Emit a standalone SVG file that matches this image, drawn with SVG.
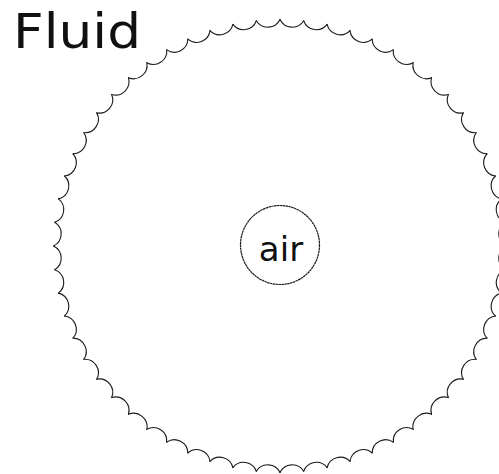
<svg xmlns="http://www.w3.org/2000/svg" xmlns:xlink="http://www.w3.org/1999/xlink" width="499" height="474" viewBox="0 0 499 474">
<style>
.bump{fill:none;stroke:#1a1a1a;stroke-width:1.1;stroke-linecap:round}
.lbl{font-family:"DejaVu Sans","Liberation Sans",sans-serif;fill:#111}
</style>
<defs>
<path id="arc" class="bump" d="M268.145 19.81 A13.5 13.5 0 0 0 291.855 19.81"/>
</defs>
<rect width="499" height="474" fill="#fff"/>
<g id="fluid">
<g id="fluid-border">
<use xlink:href="#arc" transform="rotate(3 280 246)"/><use xlink:href="#arc" transform="rotate(9 280 246)"/><use xlink:href="#arc" transform="rotate(15 280 246)"/><use xlink:href="#arc" transform="rotate(21 280 246)"/><use xlink:href="#arc" transform="rotate(27 280 246)"/><use xlink:href="#arc" transform="rotate(33 280 246)"/><use xlink:href="#arc" transform="rotate(39 280 246)"/><use xlink:href="#arc" transform="rotate(45 280 246)"/><use xlink:href="#arc" transform="rotate(51 280 246)"/><use xlink:href="#arc" transform="rotate(57 280 246)"/>
<use xlink:href="#arc" transform="rotate(63 280 246)"/><use xlink:href="#arc" transform="rotate(69 280 246)"/><use xlink:href="#arc" transform="rotate(75 280 246)"/><use xlink:href="#arc" transform="rotate(81 280 246)"/><use xlink:href="#arc" transform="rotate(87 280 246)"/><use xlink:href="#arc" transform="rotate(93 280 246)"/><use xlink:href="#arc" transform="rotate(99 280 246)"/><use xlink:href="#arc" transform="rotate(105 280 246)"/><use xlink:href="#arc" transform="rotate(111 280 246)"/><use xlink:href="#arc" transform="rotate(117 280 246)"/>
<use xlink:href="#arc" transform="rotate(123 280 246)"/><use xlink:href="#arc" transform="rotate(129 280 246)"/><use xlink:href="#arc" transform="rotate(135 280 246)"/><use xlink:href="#arc" transform="rotate(141 280 246)"/><use xlink:href="#arc" transform="rotate(147 280 246)"/><use xlink:href="#arc" transform="rotate(153 280 246)"/><use xlink:href="#arc" transform="rotate(159 280 246)"/><use xlink:href="#arc" transform="rotate(165 280 246)"/><use xlink:href="#arc" transform="rotate(171 280 246)"/><use xlink:href="#arc" transform="rotate(177 280 246)"/>
<use xlink:href="#arc" transform="rotate(183 280 246)"/><use xlink:href="#arc" transform="rotate(189 280 246)"/><use xlink:href="#arc" transform="rotate(195 280 246)"/><use xlink:href="#arc" transform="rotate(201 280 246)"/><use xlink:href="#arc" transform="rotate(207 280 246)"/><use xlink:href="#arc" transform="rotate(213 280 246)"/><use xlink:href="#arc" transform="rotate(219 280 246)"/><use xlink:href="#arc" transform="rotate(225 280 246)"/><use xlink:href="#arc" transform="rotate(231 280 246)"/><use xlink:href="#arc" transform="rotate(237 280 246)"/>
<use xlink:href="#arc" transform="rotate(243 280 246)"/><use xlink:href="#arc" transform="rotate(249 280 246)"/><use xlink:href="#arc" transform="rotate(255 280 246)"/><use xlink:href="#arc" transform="rotate(261 280 246)"/><use xlink:href="#arc" transform="rotate(267 280 246)"/><use xlink:href="#arc" transform="rotate(273 280 246)"/><use xlink:href="#arc" transform="rotate(279 280 246)"/><use xlink:href="#arc" transform="rotate(285 280 246)"/><use xlink:href="#arc" transform="rotate(291 280 246)"/><use xlink:href="#arc" transform="rotate(297 280 246)"/>
<use xlink:href="#arc" transform="rotate(303 280 246)"/><use xlink:href="#arc" transform="rotate(309 280 246)"/><use xlink:href="#arc" transform="rotate(315 280 246)"/><use xlink:href="#arc" transform="rotate(321 280 246)"/><use xlink:href="#arc" transform="rotate(327 280 246)"/><use xlink:href="#arc" transform="rotate(333 280 246)"/><use xlink:href="#arc" transform="rotate(339 280 246)"/><use xlink:href="#arc" transform="rotate(345 280 246)"/><use xlink:href="#arc" transform="rotate(351 280 246)"/><use xlink:href="#arc" transform="rotate(357 280 246)"/>
</g>
<text class="lbl" x="13" y="48" font-size="48" textLength="128" lengthAdjust="spacingAndGlyphs">Fluid</text>
</g>
<g id="air">
<circle cx="280" cy="245" r="39.5" fill="none" stroke="#1a1a1a" stroke-width="1.2" stroke-dasharray="2.5 0.4"/>
<text class="lbl" x="281" y="261" font-size="34" text-anchor="middle">air</text>
</g>
<g id="connectors"/>
</svg>
